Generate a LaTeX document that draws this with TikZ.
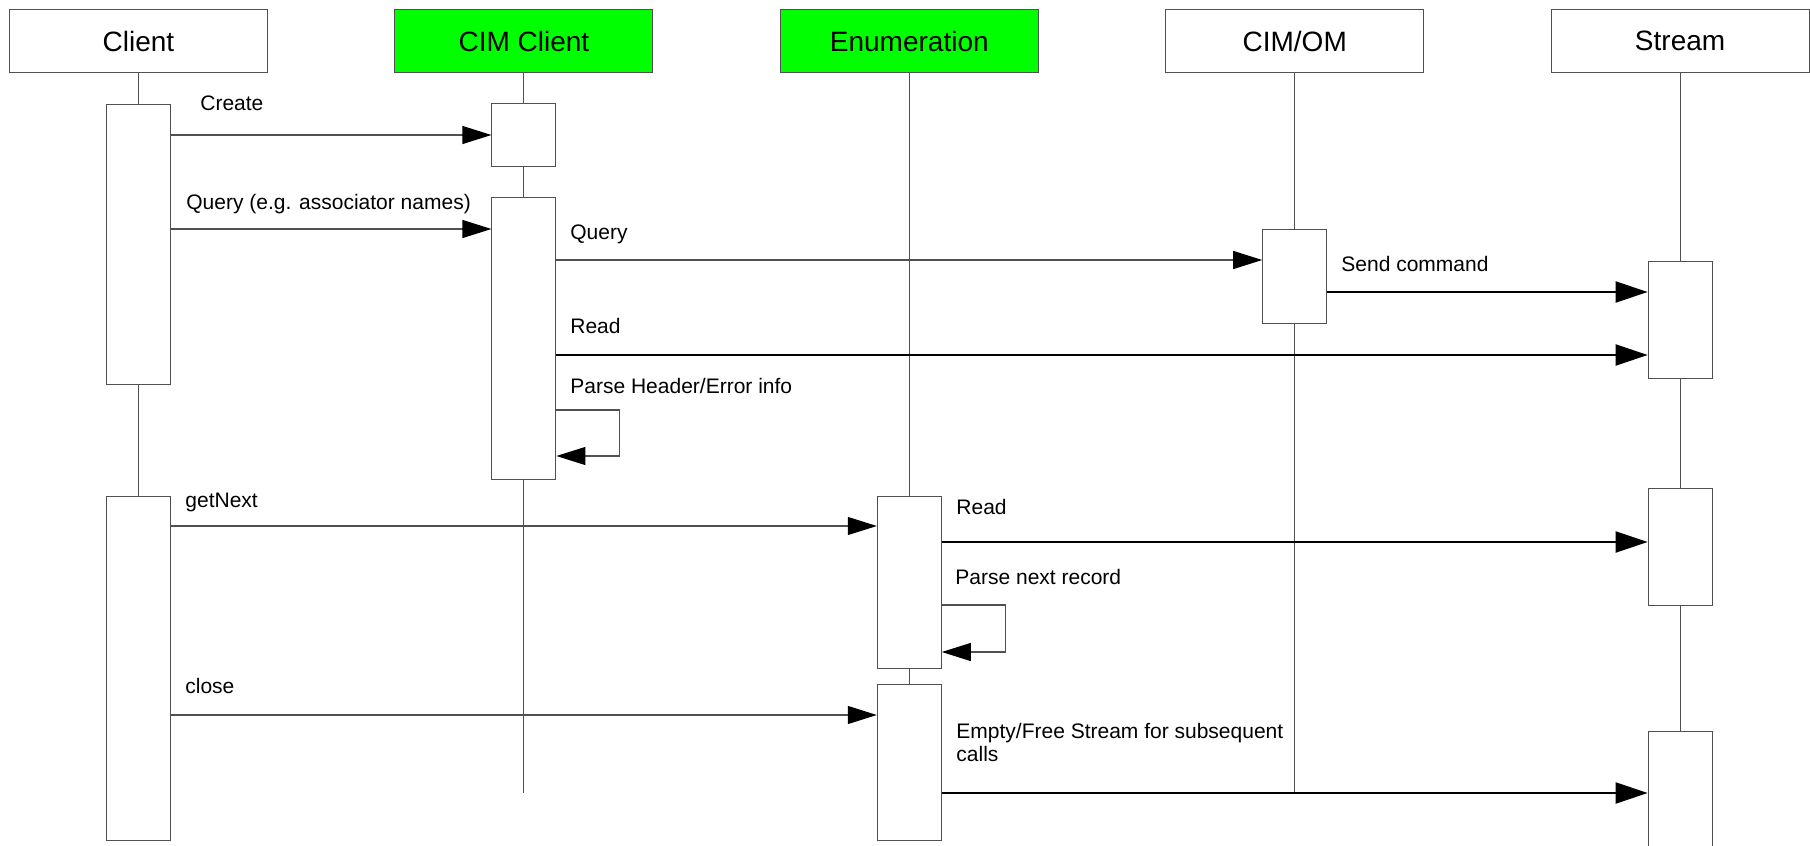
\documentclass[tikz,border=0pt]{standalone}
\usepackage{fontspec}
\setmainfont{Liberation Sans}
\usetikzlibrary{positioning, arrows.meta}
\definecolor{hgreen}{HTML}{00FF00}
\definecolor{lgray}{HTML}{505050}

\begin{document}
\begin{tikzpicture}[x=0.5pt, y=-0.5pt,
    h/.style={draw=lgray, line width=0.5pt, minimum width=129pt, minimum height=31.5pt, inner sep=0pt, font=\fontsize{14}{16}\selectfont},
    act/.style={draw=lgray, fill=white, line width=0.5pt, minimum width=32pt, inner sep=0pt, anchor=north},
    life/.style={draw=lgray, line width=0.5pt},
    msg/.style={-{Triangle[length=14.5pt, width=9pt, color=black]}, draw=lgray, line width=0.6pt},
    msgb/.style={-{Triangle[length=16pt, width=10.5pt]}, draw=black, line width=1.1pt},
    lbl/.style={anchor=base west, inner sep=0pt, align=left, font=\fontsize{10.5}{11.5}\selectfont}]
  \useasboundingbox (0,0) rectangle (1810,846);
  \node[h] (cl) at (138.5,41) {Client};
  \node[h, fill=hgreen, right=63.2pt of cl] (cc) {CIM Client};
  \node[h, fill=hgreen, right=63.2pt of cc] (en) {Enumeration};
  \node[h, right=63.2pt of en] (om) {CIM/OM};
  \node[h, right=63.2pt of om] (st) {Stream};
  \coordinate (clend) at (cl |- 0,840);
  \coordinate (ccend) at (cc |- 0,793);
  \coordinate (enend) at (en |- 0,840);
  \coordinate (omend) at (om |- 0,793);
  \coordinate (stend) at (st |- 0,860);
  \draw[life] (cl) -- (clend);
  \draw[life] (cc) -- (ccend);
  \draw[life] (en) -- (enend);
  \draw[life] (om) -- (omend);
  \draw[life] (st) -- (stend);
  \node[act, minimum height=140pt] (cla1) at (cl |- 0,104) {};
  \node[act, minimum height=172pt] (cla2) at (cl |- 0,496) {};
  \node[act, minimum height=31.5pt] (cca1) at (cc |- 0,103) {};
  \node[act, minimum height=141pt] (cca2) at (cc |- 0,197) {};
  \node[act, minimum height=86pt] (ena1) at (en |- 0,496) {};
  \node[act, minimum height=78pt] (ena2) at (en |- 0,684) {};
  \node[act, minimum height=47pt] (oma) at (om |- 0,229) {};
  \node[act, minimum height=58.5pt] (sta1) at (st |- 0,261) {};
  \node[act, minimum height=58.5pt] (sta2) at (st |- 0,488) {};
  \node[act, minimum height=70pt] (sta3) at (st |- 0,731) {};
  \draw[msg] (cla1.east |- 0,135) -- (cca1.west |- 0,135);
  \draw[msg] (cla1.east |- 0,229) -- (cca2.west |- 0,229);
  \draw[msg] (cca2.east |- 0,260) -- (oma.west |- 0,260);
  \draw[msgb] (oma.east |- 0,292) -- (sta1.west |- 0,292);
  \draw[msgb] (cca2.east |- 0,355) -- (sta1.west |- 0,355);
  \draw[msg] (cca2.east |- 0,410) -- ++(63,0) |- (cca2.east |- 0,456);
  \draw[msg] (cla2.east |- 0,526) -- (ena1.west |- 0,526);
  \draw[msgb] (ena1.east |- 0,542) -- (sta2.west |- 0,542);
  \draw[msg] (ena1.east |- 0,605) -- ++(64,0) |- (ena1.east |- 0,652);
  \draw[msg] (cla2.east |- 0,715) -- (ena2.west |- 0,715);
  \draw[msgb] (ena2.east |- 0,793) -- (sta3.west |- 0,793);
  \node[lbl] (l1) at (200,110) {Create};
  \node[lbl] (l2) at (186,209) {Query (e.g. associator names)};
  \node[lbl] (l3) at (570,239) {Query};
  \node[lbl] (l4) at (1341,271) {Send command};
  \node[lbl] (l5) at (570,333) {Read};
  \node[lbl] (l6) at (570,393) {Parse Header/Error info};
  \node[lbl] (l7) at (185,507) {getNext};
  \node[lbl] (l8) at (956,514) {Read};
  \node[lbl] (l9) at (955,584) {Parse next record};
  \node[lbl] (l10) at (185,693) {close};
  \node[lbl] (l11) at (956,761) {Empty/Free Stream for subsequent\\calls};
\end{tikzpicture}
\end{document}
